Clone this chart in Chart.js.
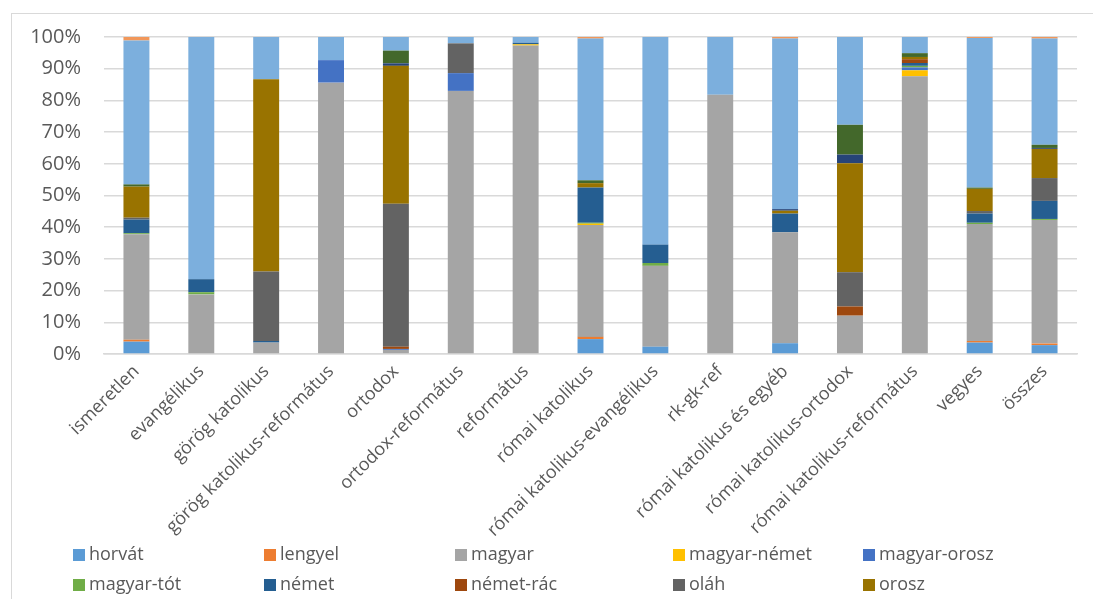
<!DOCTYPE html>
<html>
<head>
<meta charset="utf-8">
<script src="https://cdn.jsdelivr.net/npm/chart.js@4"></script>
<style>
  html, body { margin: 0; padding: 0; background: #ffffff; overflow: hidden; }
  #frame { position: absolute; left: 11px; top: 13px; width: 1200px; height: 700px;
           border-left: 1.5px solid #d9d9d9; border-top: 1.5px solid #d9d9d9; }
  #wrap { position: absolute; left: 0; top: 0; width: 1093px; height: 599px; }
</style>
</head>
<body>
<div id="frame"></div>
<div id="wrap"><canvas id="c" width="1093" height="599"></canvas></div>
<script>
const categories = ["ismeretlen", "evangélikus", "görög katolikus", "görög katolikus-református",
  "ortodox", "ortodox-református", "református", "római katolikus",
  "római katolikus-evangélikus", "rk-gk-ref", "római katolikus és egyéb",
  "római katolikus-ortodox", "római katolikus-református", "vegyes", "összes"];

const seriesNames = ["horvát", "lengyel", "magyar", "magyar-német", "magyar-orosz", "magyar-tót",
  "német", "német-rác", "oláh", "orosz", "rác", "szerb", "tót", "vend"];

const horvat      = [3.9, 0, 0, 0, 0, 0, 0, 4.7, 2.3, 0, 3.4, 0, 0, 3.6, 2.8];
const lengyel     = [0.6, 0, 0, 0, 0, 0, 0, 0.7, 0, 0, 0, 0, 0, 0.5, 0.5];
const magyar      = [33.3, 18.8, 3.6, 85.6, 1.3, 83.0, 97.3, 35.3, 25.5, 81.8, 35.0, 12.1, 87.6, 36.9, 39.0];
const magyarNemet = [0, 0, 0, 0, 0, 0, 0.4, 0.4, 0, 0, 0, 0, 1.9, 0, 0];
const magyarOrosz = [0, 0, 0, 7.1, 0.3, 5.6, 0, 0, 0, 0, 0, 0, 0.9, 0, 0];
const magyarTot   = [0.3, 0.7, 0, 0, 0, 0, 0, 0.3, 0.9, 0, 0, 0, 0.5, 0.4, 0.3];
const nemet       = [4.3, 4.1, 0.5, 0, 0, 0, 0.5, 11.1, 5.8, 0, 5.9, 0, 0.9, 2.9, 5.7];
const nemetRac    = [0, 0, 0, 0, 0.7, 0, 0, 0, 0, 0, 0, 2.9, 1.2, 0, 0];
const olah        = [0.6, 0, 21.9, 0, 45.1, 9.4, 0, 0, 0, 0, 0, 10.8, 0, 0.8, 7.2];
const orosz       = [9.8, 0, 60.7, 0, 43.5, 0, 0, 1.4, 0, 0, 0.9, 34.4, 0.7, 7.0, 9.2];
const rac         = [0, 0, 0, 0, 0.8, 0, 0, 0, 0, 0, 0.5, 2.7, 0, 0, 0.3];
const szerb       = [0.7, 0, 0, 0, 4.0, 0, 0, 0.9, 0, 0, 0, 9.4, 1.2, 0.4, 1.0];
const tot         = [45.4, 76.4, 13.3, 7.3, 4.3, 2.0, 1.8, 44.7, 65.5, 18.2, 53.8, 27.7, 5.1, 47.2, 33.5];
const vend        = [1.1, 0, 0, 0, 0, 0, 0, 0.5, 0, 0, 0.5, 0, 0, 0.3, 0.5];

const yTicks = [0, 10, 20, 30, 40, 50, 60, 70, 80, 90, 100];

const seriesValues = [horvat, lengyel, magyar, magyarNemet, magyarOrosz, magyarTot,
  nemet, nemetRac, olah, orosz, rac, szerb, tot, vend];
const seriesColors = ["#5B9BD5", "#ED7D31", "#A5A5A5", "#FFC000", "#4472C4", "#70AD47",
  "#255E91", "#9E480E", "#636363", "#997300", "#264478", "#43682B", "#7CAFDD", "#F1975A"];

const datasets = seriesNames.map((name, i) => ({
  label: name,
  data: seriesValues[i],
  backgroundColor: seriesColors[i],
  borderWidth: 0,
  barPercentage: 1,
  categoryPercentage: 0.4
}));

const TXT = "#595959";
const FONT = "'Open Sans', 'Liberation Sans', sans-serif";

const legendPlugin = {
  id: 'excelLegend',
  afterDraw(chart) {
    const ctx = chart.ctx;
    const colX = [73, 264, 455, 673, 863];
    const rowY = [555, 585, 615];
    ctx.save();
    ctx.font = "18px " + FONT;
    ctx.textBaseline = 'middle';
    ctx.textAlign = 'left';
    chart.data.datasets.forEach((ds, i) => {
      const col = i % 5, row = Math.floor(i / 5);
      const x = colX[col], y = rowY[row];
      ctx.fillStyle = ds.backgroundColor;
      ctx.fillRect(x, y - 6, 12, 12);
      ctx.fillStyle = TXT;
      ctx.fillText(ds.label, x + 16, y);
    });
    ctx.restore();
  }
};

new Chart(document.getElementById('c'), {
  type: 'bar',
  data: { labels: categories, datasets },
  options: {
    responsive: false,
    animation: false,
    layout: { padding: { left: 0, right: 16, top: 37, bottom: 60 } },
    plugins: { legend: { display: false }, tooltip: { enabled: false }, title: { display: false } },
    scales: {
      x: {
        stacked: true,
        grid: { display: false, drawTicks: false },
        border: { display: true, color: '#d9d9d9', width: 1.5 },
        ticks: { color: TXT, font: { family: FONT, size: 18 }, autoSkip: false,
                 minRotation: 45, maxRotation: 45, padding: 7 },
        afterFit(scale) { scale.height = 185; }
      },
      y: {
        stacked: true,
        min: 0, max: 100,
        afterBuildTicks(scale) { scale.ticks = yTicks.map(v => ({ value: v })); },
        grid: { color: '#d9d9d9', lineWidth: 1.5, drawTicks: false },
        border: { display: false },
        ticks: { color: TXT, font: { family: FONT, size: 20 }, padding: 23,
                 callback: v => v + '%' },
        afterFit(scale) { scale.width = 104; }
      }
    }
  },
  plugins: [legendPlugin]
});
</script>
</body>
</html>
